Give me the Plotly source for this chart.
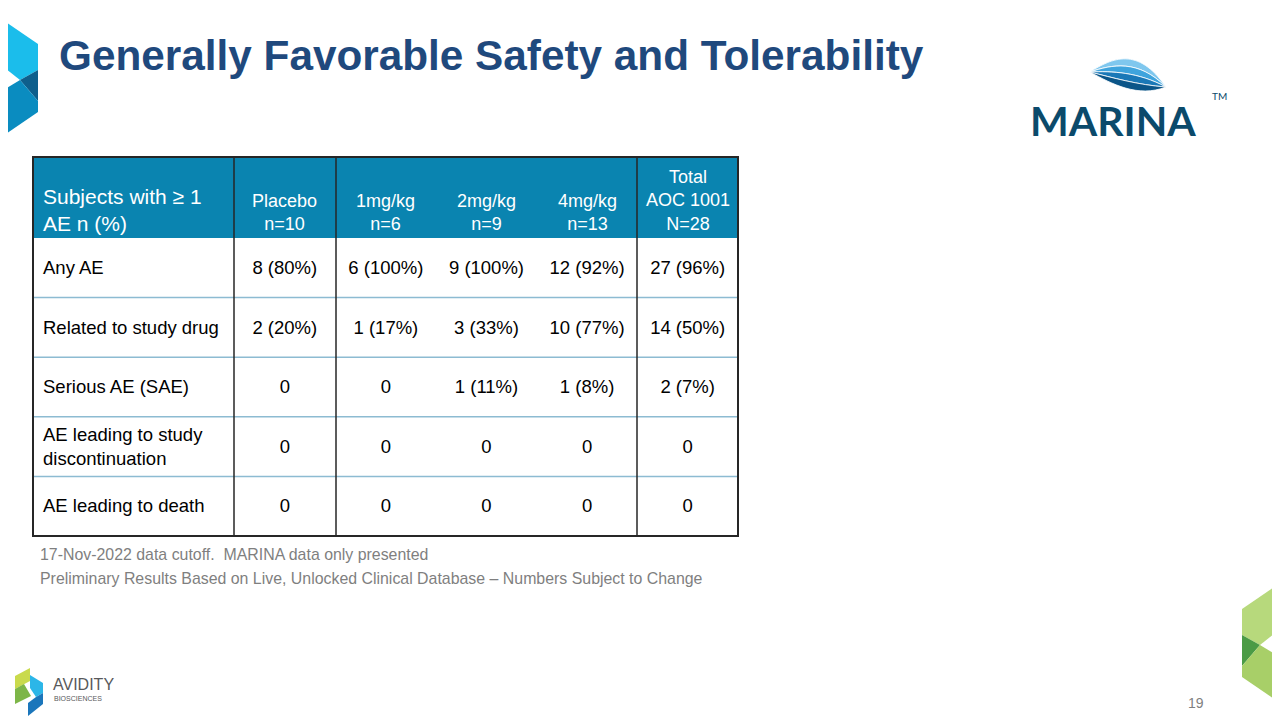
import plotly.graph_objects as go

# ---------------- data ----------------
title = "Generally Favorable Safety and Tolerability"
corner_header = "Subjects with ≥ 1<br>AE n (%)"
col_headers = ["Placebo<br>n=10", "1mg/kg<br>n=6", "2mg/kg<br>n=9", "4mg/kg<br>n=13", "Total<br>AOC 1001<br>N=28"]
row_labels = ["Any AE", "Related to study drug", "Serious AE (SAE)",
              "AE leading to study<br>discontinuation", "AE leading to death"]
placebo = ["8 (80%)", "2 (20%)", "0", "0", "0"]
mg1 = ["6 (100%)", "1 (17%)", "0", "0", "0"]
mg2 = ["9 (100%)", "3 (33%)", "1 (11%)", "0", "0"]
mg4 = ["12 (92%)", "10 (77%)", "1 (8%)", "0", "0"]
total = ["27 (96%)", "14 (50%)", "2 (7%)", "0", "0"]
columns = [placebo, mg1, mg2, mg4, total]
footnotes = ["17-Nov-2022 data cutoff.  MARINA data only presented",
             "Preliminary Results Based on Live, Unlocked Clinical Database – Numbers Subject to Change"]
page_number = "19"

# ---------------- layout geometry (screen pixels) ----------------
W, H = 1280, 720
OFF = 8  # page body margin
tbl_left, tbl_right = 33, 738
col_edges = [234, 335.6, 436.2, 536.8, 637.4, 738]
vlines = [234, 336, 637]
hdr_top, hdr_bot = 157, 238
row_h = (536 - hdr_bot) / len(row_labels)
row_edges = [hdr_bot + i * row_h for i in range(len(row_labels) + 1)]
col_centers = [(col_edges[i] + col_edges[i + 1]) / 2 for i in range(len(columns))]
row_centers = [(row_edges[i] + row_edges[i + 1]) / 2 + 1.5 for i in range(len(row_labels))]

FONT = "Liberation Sans, Arial, sans-serif"
HDR_FILL = "#0A84B0"
DARK = "#262626"
LIGHT_LINE = "#8DBBD2"

fig = go.Figure()

# body text traces
fig.add_trace(go.Scatter(
    x=[tbl_left + 10] * len(row_labels), y=row_centers, text=row_labels,
    mode="text", textposition="middle right",
    textfont=dict(family=FONT, size=18.5, color="#000000"),
    hoverinfo="skip", showlegend=False))
for cx, vals in zip(col_centers, columns):
    fig.add_trace(go.Scatter(
        x=[cx] * len(vals), y=row_centers, text=vals,
        mode="text", textposition="middle center",
        textfont=dict(family=FONT, size=18.5, color="#000000"),
        hoverinfo="skip", showlegend=False))

shapes = []
shapes.append(dict(type="rect", x0=tbl_left, x1=tbl_right, y0=hdr_top, y1=hdr_bot,
                   fillcolor=HDR_FILL, line_width=0, layer="below"))
for y in row_edges[1:-1]:
    shapes.append(dict(type="line", x0=tbl_left, x1=tbl_right, y0=y, y1=y,
                       line=dict(color=LIGHT_LINE, width=1.5)))
for x in vlines:
    shapes.append(dict(type="line", x0=x, x1=x, y0=hdr_top, y1=row_edges[-1],
                       line=dict(color=DARK, width=1.5)))
shapes.append(dict(type="rect", x0=tbl_left, x1=tbl_right, y0=hdr_top, y1=row_edges[-1],
                   line=dict(color=DARK, width=2), fillcolor="rgba(0,0,0,0)"))

# top-left blue logo
shapes += [
    dict(type="path", path="M0,18 L38,44 L38,70 L20,80 L0,64 Z", fillcolor="#1BBDEB", line_width=0),
    dict(type="path", path="M20,80 L38,70 L38,101 Z", fillcolor="#0E5F8C", line_width=0),
    dict(type="path", path="M0,92 L20,80 L38,101 L38,112 L0,138 Z", fillcolor="#0A8CC0", line_width=0),
]
# bottom-right green logo (mirror)
def mir(pts, dy):
    return "M" + " L".join(f"{W - x},{y + dy}" for x, y in pts) + " Z"
shapes += [
    dict(type="path", path=mir([(0, 18), (38, 44), (38, 70), (20, 80), (0, 64)], 565), fillcolor="#B7D97C", line_width=0),
    dict(type="path", path=mir([(20, 80), (38, 70), (38, 101)], 565), fillcolor="#4B9B45", line_width=0),
    dict(type="path", path=mir([(0, 92), (20, 80), (38, 101), (38, 112), (0, 138)], 565), fillcolor="#A8CF68", line_width=0),
]
# MARINA waves
wave_cols = ["#7FC7EE", "#3FA4DD", "#1A78B7", "#0B5588"]
def curve(t):
    c1 = (1112, 58 + t * 26)
    c2 = (1138, 46 + t * 52)
    return c1, c2
for i in range(4):
    t0, t1 = i / 4, (i + 1) / 4
    a1, a2 = curve(t0)
    b1, b2 = curve(t1)
    p = (f"M1090,72 C{a1[0]},{a1[1]} {a2[0]},{a2[1]} 1166,87 "
         f"C{b2[0]},{b2[1]} {b1[0]},{b1[1]} 1090,72 Z")
    shapes.append(dict(type="path", path=p, fillcolor=wave_cols[i],
                       line=dict(color="white", width=0.8)))
# Avidity logo
shapes += [
    dict(type="path", path="M15,676 L30,668 L30,681 L15,689 Z", fillcolor="#C9DA4C", line_width=0),
    dict(type="path", path="M15,689 L24,684 L31,696 L15,704 Z", fillcolor="#7DB648", line_width=0),
    dict(type="path", path="M30,675 L43,683 L43,693 L36,697 L30,688 Z", fillcolor="#2CB6E8", line_width=0),
    dict(type="path", path="M43,693 L43,704 L28,716 L28,703 L36,697 Z", fillcolor="#1B76BB", line_width=0),
]

ann = []
ann.append(dict(x=57, y=55, text=f"<b>{title}</b>", showarrow=False, xanchor="left", yanchor="middle",
                font=dict(family=FONT, size=42.3, color="#1F497D")))
ann.append(dict(x=tbl_left + 8, y=237, text=corner_header, showarrow=False, xanchor="left", yanchor="bottom",
                align="left", font=dict(family=FONT, size=21, color="white")))
for cx, h in zip(col_centers, col_headers):
    ann.append(dict(x=cx, y=236, text=h, showarrow=False, xanchor="center", yanchor="bottom",
                    align="center", font=dict(family=FONT, size=18, color="white")))
for i, fn in enumerate(footnotes):
    ann.append(dict(x=38, y=554 + i * 24, text=fn, showarrow=False, xanchor="left", yanchor="middle",
                    font=dict(family=FONT, size=15.9, color="#7F7F7F")))
ann.append(dict(x=1196, y=703, text=page_number, showarrow=False, xanchor="center", yanchor="middle",
                font=dict(family=FONT, size=14, color="#7F7F7F")))
ann.append(dict(x=1113, y=120, text="<b>MARINA</b>", showarrow=False, xanchor="center", yanchor="middle",
                font=dict(family="Lato, sans-serif", size=41, color="#0B4A6B")))
ann.append(dict(x=1219, y=96, text="TM", showarrow=False, xanchor="center", yanchor="middle",
                font=dict(family="Lato, sans-serif", size=10, color="#0B4A6B")))
ann.append(dict(x=51, y=684, text="AVIDITY", showarrow=False, xanchor="left", yanchor="middle",
                font=dict(family=FONT, size=16, color="#58595B")))
ann.append(dict(x=52, y=698, text="BIOSCIENCES", showarrow=False, xanchor="left", yanchor="middle",
                font=dict(family=FONT, size=7, color="#58595B")))

fig.update_layout(
    width=W - OFF, height=H - OFF, margin=dict(l=0, r=0, t=0, b=0),
    paper_bgcolor="white", plot_bgcolor="white",
    xaxis=dict(range=[OFF, W], visible=False, fixedrange=True),
    yaxis=dict(range=[H, OFF], visible=False, fixedrange=True),
    shapes=shapes, annotations=ann, showlegend=False,
)
fig.write_html("out.html")
